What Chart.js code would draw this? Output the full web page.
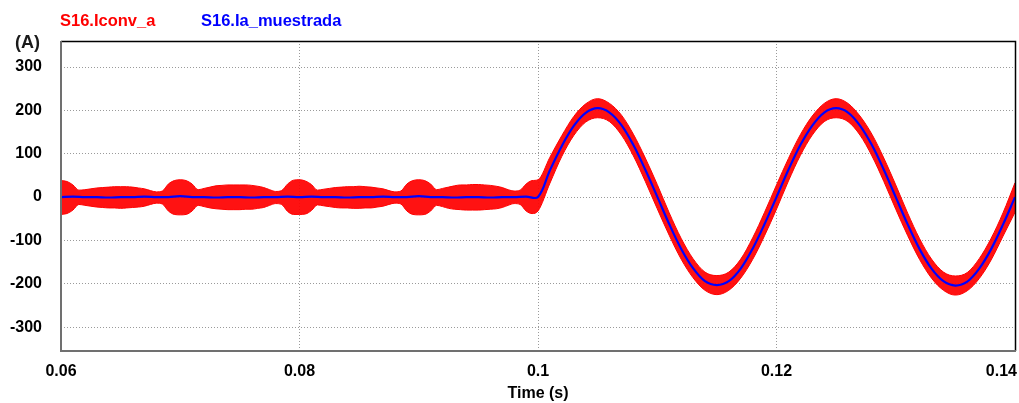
<!DOCTYPE html>
<html>
<head>
<meta charset="utf-8">
<script src="https://cdn.jsdelivr.net/npm/chart.js@4.4.0/dist/chart.umd.min.js"></script>
<style>
  html, body { margin: 0; padding: 0; background: #fff; }
  #wrap { position: relative; width: 1019px; height: 403px; overflow: hidden; }
  canvas { position: absolute; left: 0; top: 0; }
  .lbl { position: absolute; font-family: "Liberation Sans", Arial, sans-serif; font-weight: bold; white-space: nowrap; }
</style>
</head>
<body>
<div id="wrap">
  <canvas id="c" width="1019" height="403"></canvas>
  <div class="lbl" id="leg1" style="left:60px; top:12px; font-size:16.5px; line-height:16px; color:#ff0000;"></div>
  <div class="lbl" id="leg2" style="left:201px; top:12px; font-size:16.5px; line-height:16px; color:#0000ff;"></div>
  <div class="lbl" id="yunit" style="left:15px; top:33px; font-size:18px; line-height:18px; color:#1a1a1a;"></div>
</div>
<script>
// ---------- data ----------
const seriesNames = ['S16.Iconv_a', 'S16.Ia_muestrada'];
const yUnit = '(A)';
const xTitle = 'Time (s)';
const xTickValues = [0.06, 0.08, 0.1, 0.12, 0.14];
const xTickLabels = ['0.06', '0.08', '0.1', '0.12', '0.14'];
const yTickValues = [-300, -200, -100, 0, 100, 200, 300];
const yTickLabels = ['-300', '-200', '-100', '0', '100', '200', '300'];

// Red band (S16.Iconv_a) : upper and lower envelope of the switching ripple
const redTime = [
  0.0600,0.0605,0.0610,0.0615,0.0620,0.0625,0.0630,0.0635,0.0640,0.0645,0.0650,0.0655,0.0660,0.0665,0.0670,0.0675,0.0680,0.0685,0.0690,0.0695,
  0.0700,0.0705,0.0710,0.0715,0.0720,0.0725,0.0730,0.0735,0.0740,0.0745,0.0750,0.0755,0.0760,0.0765,0.0770,0.0775,0.0780,0.0785,0.0790,0.0795,
  0.0800,0.0805,0.0810,0.0815,0.0820,0.0825,0.0830,0.0835,0.0840,0.0845,0.0850,0.0855,0.0860,0.0865,0.0870,0.0875,0.0880,0.0885,0.0890,0.0895,
  0.0900,0.0905,0.0910,0.0915,0.0920,0.0925,0.0930,0.0935,0.0940,0.0945,0.0950,0.0955,0.0960,0.0965,0.0970,0.0975,0.0980,0.0985,0.0990,0.0995,
  0.100,0.101,0.102,0.103,0.104,0.105,0.106,0.107,0.108,0.109,
  0.110,0.111,0.112,0.113,0.114,0.115,0.116,0.117,0.118,0.119,
  0.120,0.121,0.122,0.123,0.124,0.125,0.126,0.127,0.128,0.129,
  0.130,0.131,0.132,0.133,0.134,0.135,0.136,0.137,0.138,0.139,
  0.140
];
const redUpper = [
  38,36,28,16,17,19,21,22,23,24,24,24,23,21,19,15,12,14,30,38,
  40,38,30,17,20,23,26,27,28,28,28,28,27,25,22,17,13,15,30,39,
  40,37,29,16,18,20,22,23,24,24,25,24,23,21,19,15,12,14,30,38,
  40,38,30,17,20,23,26,28,28,29,29,28,27,25,22,17,14,16,30,38,
  40,92,142,186,215,227,216,189,145,90,
  29,-36,-95,-142,-173,-181,-173,-143,-94,-35,
  28,89,144,187,216,227,216,187,145,90,
  28,-37,-96,-143,-173,-182,-174,-142,-95,-36,
  33
];
const redLower = [
  -40,-38,-30,-17,-19,-21,-23,-24,-25,-25,-26,-25,-24,-23,-21,-17,-14,-16,-32,-40,
  -41,-40,-32,-19,-22,-25,-27,-28,-29,-29,-29,-28,-28,-26,-24,-19,-15,-17,-33,-40,
  -40,-39,-31,-18,-20,-22,-24,-25,-25,-26,-26,-25,-25,-23,-21,-17,-14,-16,-32,-40,
  -41,-40,-32,-19,-22,-26,-28,-29,-30,-30,-30,-29,-28,-27,-24,-19,-15,-17,-32,-38,
  -32,32,94,142,173,183,174,143,95,36,
  -27,-88,-143,-186,-215,-225,-215,-187,-144,-89,
  -28,37,96,143,174,183,174,143,95,36,
  -28,-89,-144,-187,-215,-226,-216,-188,-145,-90,
  -35
];

// Blue line (S16.Ia_muestrada)
const blueTime = [
  0.060,0.061,0.062,0.063,0.064,0.065,0.066,0.067,0.068,0.069,
  0.070,0.071,0.072,0.073,0.074,0.075,0.076,0.077,0.078,0.079,
  0.080,0.081,0.082,0.083,0.084,0.085,0.086,0.087,0.088,0.089,
  0.090,0.091,0.092,0.093,0.094,0.095,0.096,0.097,0.098,0.099,
  0.100,0.101,0.102,0.103,0.104,0.105,0.106,0.107,0.108,0.109,
  0.110,0.111,0.112,0.113,0.114,0.115,0.116,0.117,0.118,0.119,
  0.120,0.121,0.122,0.123,0.124,0.125,0.126,0.127,0.128,0.129,
  0.130,0.131,0.132,0.133,0.134,0.135,0.136,0.137,0.138,0.139,
  0.140
];
const blueValues = [
  0,1,0,0,-1,0,0,1,0,0,
  2,0,0,-1,0,0,-1,0,0,1,
  0,1,0,0,-1,0,0,1,0,0,
  2,0,0,-1,0,0,-1,0,0,1,
  0,62,118,164,194,205,195,166,120,63,
  1,-62,-119,-164,-194,-203,-194,-165,-119,-62,
  0,63,120,165,195,205,195,165,120,63,
  0,-63,-120,-165,-194,-204,-195,-165,-120,-63,
  0
];

// ---------- chart ----------
document.getElementById('leg1').textContent = seriesNames[0];
document.getElementById('leg2').textContent = seriesNames[1];
document.getElementById('yunit').textContent = yUnit;

const FONT = '"Liberation Sans", Arial, sans-serif';
const toPts = (xs, ys) => xs.map((x, i) => ({ x: x, y: ys[i] }));

const framePlugin = {
  id: 'frame',
  afterDraw(chart) {
    const { ctx, chartArea: a } = chart;
    ctx.save();
    ctx.strokeStyle = '#000';
    ctx.lineWidth = 1.5;
    ctx.beginPath();
    ctx.moveTo(a.left, a.top + 0.5);
    ctx.lineTo(a.right + 0.5, a.top + 0.5);
    ctx.lineTo(a.right + 0.5, a.bottom);
    ctx.stroke();
    ctx.strokeStyle = '#707070';
    ctx.lineWidth = 2;
    ctx.beginPath();
    ctx.moveTo(a.left, a.top);
    ctx.lineTo(a.left, a.bottom);
    ctx.lineTo(a.right + 1, a.bottom);
    ctx.stroke();
    ctx.fillStyle = '#000';
    ctx.font = 'bold 16px ' + FONT;
    ctx.textAlign = 'right';
    ctx.textBaseline = 'middle';
    ctx.fillText(xTickLabels[xTickLabels.length - 1], a.right + 2, a.bottom + 11 + 9.6);
    ctx.restore();
  }
};

new Chart(document.getElementById('c'), {
  type: 'line',
  data: {
    datasets: [
      {
        label: seriesNames[1],
        data: toPts(blueTime, blueValues),
        borderColor: '#0000ff',
        borderWidth: 2.2,
        pointRadius: 0,
        tension: 0.35,
        fill: false,
        order: 0
      },
      {
        label: seriesNames[0] + ' max',
        data: toPts(redTime, redUpper),
        borderColor: '#ff0000',
        backgroundColor: 'rgba(255,0,0,0.93)',
        borderWidth: 1,
        pointRadius: 0,
        cubicInterpolationMode: 'monotone',
        fill: '+1',
        order: 1
      },
      {
        label: seriesNames[0] + ' min',
        data: toPts(redTime, redLower),
        borderColor: '#ff0000',
        borderWidth: 1,
        pointRadius: 0,
        cubicInterpolationMode: 'monotone',
        fill: false,
        order: 2
      }
    ]
  },
  options: {
    responsive: false,
    animation: false,
    devicePixelRatio: 1,
    layout: { padding: { top: 41, right: 4, left: 0, bottom: 0 } },
    plugins: { legend: { display: false }, tooltip: { enabled: false } },
    scales: {
      x: {
        type: 'linear',
        min: 0.06,
        max: 0.14,
        afterBuildTicks: s => { s.ticks = xTickValues.map(v => ({ value: v })); },
        afterFit: s => { s.height = 52; s.paddingLeft = 0; s.paddingRight = 0; },
        ticks: {
          autoSkip: false,
          maxRotation: 0,
          padding: 11,
          color: '#000',
          font: { family: FONT, size: 16, weight: 'bold' },
          callback: (v, i) => (i === xTickLabels.length - 1 ? '' : xTickLabels[i])
        },
        grid: { color: '#9a9a9a', lineWidth: 1, drawTicks: false },
        border: { display: false, dash: [1, 2] },
        title: {
          display: true,
          text: xTitle,
          color: '#000',
          font: { family: FONT, size: 16, weight: 'bold' },
          padding: { top: 0, bottom: 0 }
        }
      },
      y: {
        type: 'linear',
        min: -355,
        max: 360,
        afterBuildTicks: s => { s.ticks = yTickValues.map(v => ({ value: v })); },
        afterFit: s => { s.width = 61; },
        ticks: {
          padding: 19,
          color: '#000',
          font: { family: FONT, size: 16, weight: 'bold' },
          callback: (v, i) => yTickLabels[i]
        },
        grid: { color: '#9a9a9a', lineWidth: 1, drawTicks: false },
        border: { display: false, dash: [1, 2] }
      }
    }
  },
  plugins: [framePlugin]
});
</script>
</body>
</html>
